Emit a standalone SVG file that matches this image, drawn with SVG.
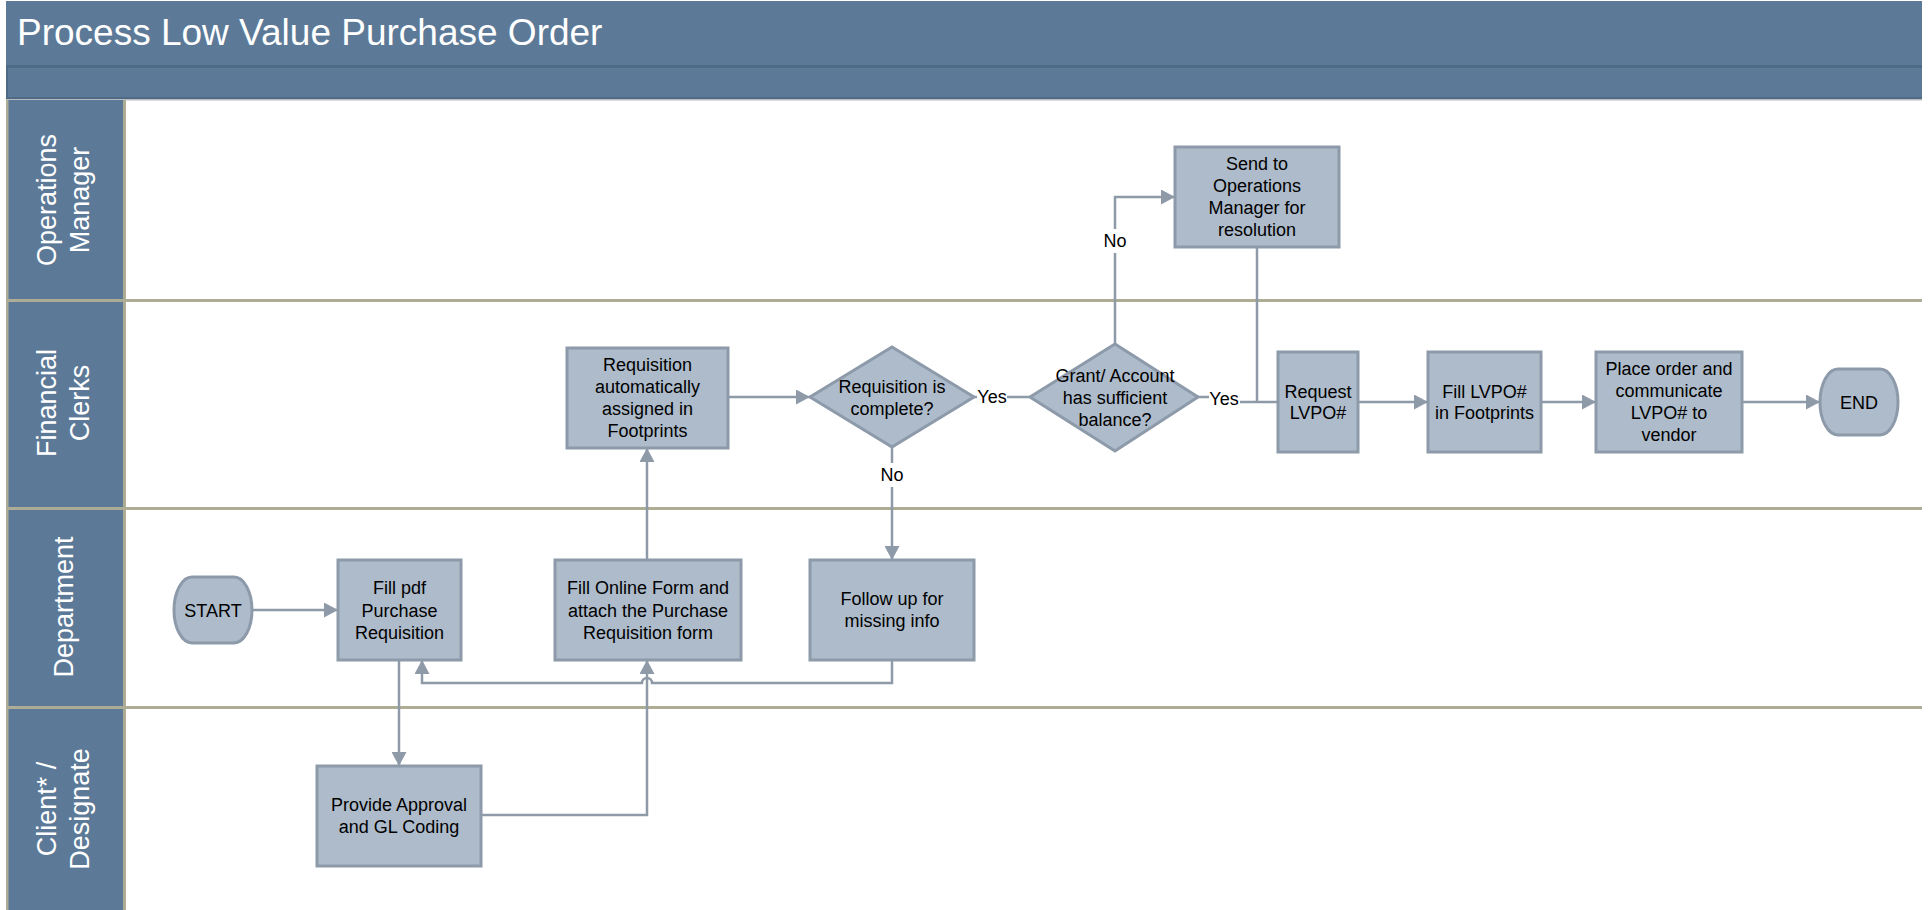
<svg xmlns="http://www.w3.org/2000/svg" width="1928" height="910" viewBox="0 0 1928 910">
<defs>
<style>
.bar{fill:#5c7a98}
.dark{fill:#4e6a86}
.tan{fill:#adac94}
.box{fill:#adbbca;stroke:#8d9aaa;stroke-width:3}
.lane{font-family:"Liberation Sans",Arial,sans-serif;font-size:27px;fill:#ffffff;text-anchor:middle}
.t{font-family:"Liberation Sans",Arial,sans-serif;font-size:18px;fill:#000000;text-anchor:middle}
.title{font-family:"Liberation Sans",Arial,sans-serif;font-size:37px;fill:#ffffff}
.c{fill:none;stroke:#8e9aa8;stroke-width:2.5}
.lbl{fill:#ffffff}
</style>
<marker id="arr" viewBox="0 0 14 15" refX="14" refY="7.5" markerWidth="14" markerHeight="15" markerUnits="userSpaceOnUse" orient="auto">
<path d="M0,0 L14,7.5 L0,15 z" fill="#8e9aa8"/>
</marker>
</defs>

<g id="pool">
<rect x="0" y="0" width="1928" height="910" fill="#ffffff"/>
<rect class="bar" x="6" y="1" width="1916" height="64"/>
<rect class="dark" x="6" y="65" width="1916" height="3"/>
<rect class="bar" x="6" y="68" width="1916" height="30"/>
<rect class="dark" x="6" y="68" width="2" height="31"/>
<rect class="dark" x="6" y="97" width="1916" height="2"/>
<rect x="6" y="99" width="1916" height="1.5" fill="#b8bcc0"/>
<text class="title" x="17" y="45">Process Low Value Purchase Order</text>
<rect class="bar" x="8" y="100" width="115" height="810"/>
<rect class="tan" x="6" y="100" width="2.5" height="810"/>
<rect class="tan" x="123" y="100" width="3" height="810"/>
<rect class="tan" x="6" y="299" width="1916" height="3"/>
<rect class="tan" x="6" y="507" width="1916" height="3"/>
<rect class="tan" x="6" y="706" width="1916" height="3"/>
</g>

<g id="lane-ops">
<text class="lane" transform="translate(0,200) rotate(-90)"><tspan x="0" y="55.5">Operations</tspan><tspan x="0" y="88.5">Manager</tspan></text>
</g>
<g id="lane-fin">
<text class="lane" transform="translate(0,403) rotate(-90)"><tspan x="0" y="55.5">Financial</tspan><tspan x="0" y="88.5">Clerks</tspan></text>
</g>
<g id="lane-dept">
<text class="lane" transform="translate(0,607) rotate(-90)"><tspan x="0" y="73">Department</tspan></text>
</g>
<g id="lane-client">
<text class="lane" transform="translate(0,809) rotate(-90)"><tspan x="0" y="55.5">Client* /</tspan><tspan x="0" y="88.5">Designate</tspan></text>
</g>

<g id="connectors">
<path class="c" d="M252,610 H338" marker-end="url(#arr)"/>
<path class="c" d="M399,660 V766" marker-end="url(#arr)"/>
<path class="c" d="M481,815 H647 V660" marker-end="url(#arr)"/>
<path class="c" d="M647,560 V448" marker-end="url(#arr)"/>
<path class="c" d="M728,397 H810" marker-end="url(#arr)"/>
<path class="c" d="M974,397 H1030"/>
<path class="c" d="M892,447 V560" marker-end="url(#arr)"/>
<path class="c" d="M892,660 V683 H652 A5,5 0 0 0 642,683 H422 V660" marker-end="url(#arr)"/>
<path class="c" d="M1115,344 V197 H1175" marker-end="url(#arr)"/>
<path class="c" d="M1198,397 H1224 V402 H1278"/>
<path class="c" d="M1257,247 V402"/>
<path class="c" d="M1358,402 H1428" marker-end="url(#arr)"/>
<path class="c" d="M1541,402 H1596" marker-end="url(#arr)"/>
<path class="c" d="M1742,402 H1820" marker-end="url(#arr)"/>
<rect class="lbl" x="977" y="386" width="30" height="22"/>
<text class="t" x="992" y="403">Yes</text>
<rect class="lbl" x="881" y="463" width="22" height="24"/>
<text class="t" x="892" y="481">No</text>
<rect class="lbl" x="1104" y="229" width="22" height="24"/>
<text class="t" x="1115" y="247">No</text>
<rect class="lbl" x="1209" y="388" width="31" height="22"/>
<text class="t" x="1224" y="405">Yes</text>
</g>

<g id="start">
<rect class="box" x="174" y="577" width="78" height="66" rx="18" ry="33"/>
<text class="t" x="213" y="617">START</text>
</g>
<g id="fill-pdf">
<rect class="box" x="338" y="560" width="123" height="100"/>
<text class="t"><tspan x="399.5" y="594">Fill pdf</tspan><tspan x="399.5" y="616.5">Purchase</tspan><tspan x="399.5" y="639">Requisition</tspan></text>
</g>
<g id="approval">
<rect class="box" x="317" y="766" width="164" height="100"/>
<text class="t"><tspan x="399" y="811">Provide Approval</tspan><tspan x="399" y="833">and GL Coding</tspan></text>
</g>
<g id="fill-online">
<rect class="box" x="555" y="560" width="186" height="100"/>
<text class="t"><tspan x="648" y="594">Fill Online Form and</tspan><tspan x="648" y="616.5">attach the Purchase</tspan><tspan x="648" y="639">Requisition form</tspan></text>
</g>
<g id="req-auto">
<rect class="box" x="567" y="348" width="161" height="100"/>
<text class="t"><tspan x="647.5" y="370.5">Requisition</tspan><tspan x="647.5" y="392.5">automatically</tspan><tspan x="647.5" y="414.5">assigned in</tspan><tspan x="647.5" y="437">Footprints</tspan></text>
</g>
<g id="req-complete">
<polygon class="box" points="892,347 974,397 892,447 810,397"/>
<text class="t"><tspan x="892" y="392.5">Requisition is</tspan><tspan x="892" y="414.5">complete?</tspan></text>
</g>
<g id="follow-up">
<rect class="box" x="810" y="560" width="164" height="100"/>
<text class="t"><tspan x="892" y="604.5">Follow up for</tspan><tspan x="892" y="627">missing info</tspan></text>
</g>
<g id="balance">
<polygon class="box" points="1115,344 1198,397 1115,451 1030,397"/>
<text class="t"><tspan x="1115" y="381.5">Grant/ Account</tspan><tspan x="1115" y="403.5">has sufficient</tspan><tspan x="1115" y="425.5">balance?</tspan></text>
</g>
<g id="send-ops">
<rect class="box" x="1175" y="147" width="164" height="100"/>
<text class="t"><tspan x="1257" y="169.5">Send to</tspan><tspan x="1257" y="191.5">Operations</tspan><tspan x="1257" y="213.5">Manager for</tspan><tspan x="1257" y="236">resolution</tspan></text>
</g>
<g id="request-lvpo">
<rect class="box" x="1278" y="352" width="80" height="100"/>
<text class="t"><tspan x="1318" y="397.5">Request</tspan><tspan x="1318" y="419">LVPO#</tspan></text>
</g>
<g id="fill-lvpo">
<rect class="box" x="1428" y="352" width="113" height="100"/>
<text class="t"><tspan x="1484.5" y="397.5">Fill LVPO#</tspan><tspan x="1484.5" y="419">in Footprints</tspan></text>
</g>
<g id="place-order">
<rect class="box" x="1596" y="352" width="146" height="100"/>
<text class="t"><tspan x="1669" y="374.5">Place order and</tspan><tspan x="1669" y="396.5">communicate</tspan><tspan x="1669" y="418.5">LVPO# to</tspan><tspan x="1669" y="441">vendor</tspan></text>
</g>
<g id="end">
<rect class="box" x="1820" y="369" width="78" height="66" rx="18" ry="33"/>
<text class="t" x="1859" y="409">END</text>
</g>
</svg>
